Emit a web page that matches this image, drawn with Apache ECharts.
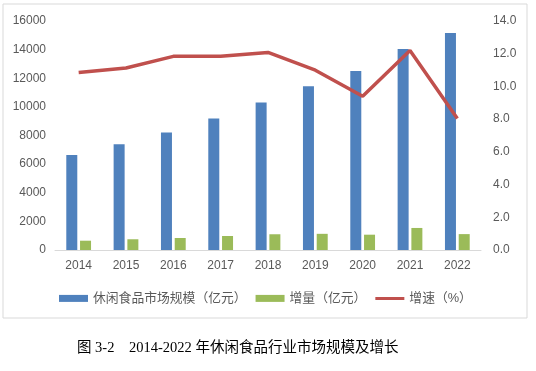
<!DOCTYPE html>
<html>
<head>
<meta charset="utf-8">
<script src="https://cdn.jsdelivr.net/npm/echarts@6/dist/echarts.min.js"></script>
<style>
html,body{margin:0;padding:0;background:#fff;}
#main{width:536px;height:371px;}
</style>
</head>
<body>
<div id="main"></div>
<script>
var years = ['2014','2015','2016','2017','2018','2019','2020','2021','2022'];
var marketSize = [6630, 7380, 8210, 9190, 10300, 11440, 12510, 14050, 15160];
var increment = [650, 750, 840, 980, 1100, 1130, 1070, 1540, 1110];
var growthRate = [10.85, 11.13, 11.84, 11.84, 12.08, 10.99, 9.40, 12.20, 8.04];
var leftTicks = [0, 16000, 2000];
var rightTicks = [0, 14, 2];

var nameSize = '休闲食品市场规模（亿元）';
var nameInc = '增量（亿元）';
var nameRate = '增速（%）';

var chart = echarts.init(document.getElementById('main'), null, {renderer: 'canvas'});
var fontFam = '"Liberation Sans", "Noto Sans CJK SC", sans-serif';
chart.setOption({
  animation: false,
  backgroundColor: '#fff',
  textStyle: {fontFamily: fontFam},
  graphic: [
    {type: 'rect', shape: {x: 3, y: 4, width: 524, height: 314},
     style: {fill: 'none', stroke: '#D9D9D9', lineWidth: 1}, z: -1},
    {type: 'text', left: 77, top: 341,
     style: {text: '图 3-2    2014-2022 年休闲食品行业市场规模及增长',
             font: '14.5px "Liberation Serif", "Noto Sans CJK SC", serif', fill: '#000'}}
  ],
  grid: {left: 55, right: 55, top: 21, bottom: 121},
  legend: {
    left: 54, top: 287,
    itemWidth: 29, itemHeight: 7, itemGap: 9,
    textStyle: {fontSize: 12.8, color: '#595959', fontFamily: fontFam},
    data: [
      {name: nameSize, icon: 'rect'},
      {name: nameInc, icon: 'rect'},
      {name: nameRate, icon: 'path://M0,0 L0.01,0 M0,2.2 L29,2.2 L29,5.2 L0,5.2 Z M29,7 L28.99,7'}
    ]
  },
  xAxis: {
    type: 'category',
    data: years,
    axisLine: {lineStyle: {color: '#D9D9D9'}},
    axisTick: {show: false},
    axisLabel: {color: '#595959', fontSize: 12, margin: 10}
  },
  yAxis: [
    {type: 'value', min: leftTicks[0], max: leftTicks[1], interval: leftTicks[2],
     splitLine: {show: false}, axisLine: {show: false}, axisTick: {show: false},
     axisLabel: {color: '#595959', fontSize: 12, margin: 9,
                 formatter: function (v) { return String(v); }}},
    {type: 'value', min: rightTicks[0], max: rightTicks[1], interval: rightTicks[2],
     splitLine: {show: false}, axisLine: {show: false}, axisTick: {show: false},
     axisLabel: {color: '#595959', fontSize: 12, margin: 12,
                 formatter: function (v) { return v.toFixed(1); }}}
  ],
  series: [
    {name: nameSize, type: 'bar', data: marketSize, barWidth: 11, barGap: '25%',
     itemStyle: {color: '#4F81BD'}},
    {name: nameInc, type: 'bar', data: increment, barWidth: 11, barGap: '25%',
     itemStyle: {color: '#9BBB59'}},
    {name: nameRate, type: 'line', yAxisIndex: 1, data: growthRate,
     symbol: 'none', lineStyle: {color: '#C0504D', width: 3.5},
     itemStyle: {color: '#C0504D'}, z: 5}
  ]
});
</script>
</body>
</html>
